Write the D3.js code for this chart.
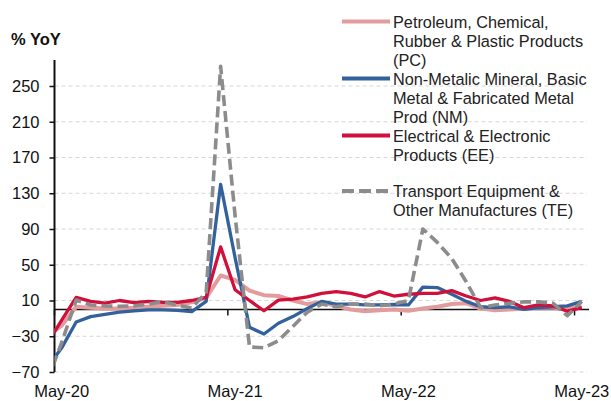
<!DOCTYPE html>
<html>
<head>
<meta charset="utf-8">
<script src="https://cdn.jsdelivr.net/npm/d3@7"></script>
<style>
  html, body { margin: 0; padding: 0; background: #fff; }
  svg { display: block; font-family: "Liberation Sans", Arial, sans-serif; }
</style>
</head>
<body>
<svg id="chart" width="611" height="401"></svg>
<script>
// Monthly year-on-year growth by manufacturing sub-sector (%)
const months = ["Apr-20","May-20","Jun-20","Jul-20","Aug-20","Sep-20","Oct-20","Nov-20","Dec-20",
  "Jan-21","Feb-21","Mar-21","Apr-21","May-21","Jun-21","Jul-21","Aug-21","Sep-21","Oct-21","Nov-21","Dec-21",
  "Jan-22","Feb-22","Mar-22","Apr-22","May-22","Jun-22","Jul-22","Aug-22","Sep-22","Oct-22","Nov-22","Dec-22",
  "Jan-23","Feb-23","Mar-23","Apr-23","May-23"];

const pcValues = [-30, -18, 3, 2, 1, 1, 2, 3, 4, 5, 8, 13,
  38, 33, 21, 16, 15, 10, 6, 8, 4,
  0, -2, -1, 0, -1.5, 1, 3, 6, 7, 1, -1, 0,
  1, 2, 2, 1, 3];
const nmValues = [-65, -43, -14, -8, -5.5, -3, -1.5, -0.5, -0.5, -1, -2.5, 9,
  140, 58, -20, -27.5, -15.5, -8, 1, 9, 6,
  6, 5, 5, 5.5, 5, 25, 24.5, 17, 9, 3, 2, 3,
  0, 2, 3, 4, 9];
const eeValues = [-38, -12, 13.5, 9, 7, 10, 7.5, 9, 8, 8, 10, 13.5,
  70, 22, 10, -1.5, 10.5, 11.5, 14, 18, 20,
  18, 14, 20, 15, 17, 18, 18, 21, 15, 10, 13, 9,
  2, 5, 4, -2, 2];
const teValues = [-80, -37, 10.5, 5, 4, 3.5, 4, 6, 8.5, 5, 1.5, 19,
  272, 105, -42, -43, -35, -19, -3, 6, 3,
  6, 6, 4, 6, 10, 90, 75, 57, 31, 2, 5, 7,
  8.5, 8.5, 7, -7, 9];

const seriesNames = [
  ["Petroleum, Chemical,", "Rubber & Plastic Products", "(PC)"],
  ["Non-Metalic Mineral, Basic", "Metal & Fabricated Metal", "Prod (NM)"],
  ["Electrical & Electronic", "Products (EE)"],
  ["Transport Equipment &", "Other Manufactures (TE)"]
];
const yTicks = [-70, -30, 10, 50, 90, 130, 170, 210, 250];
const xTickLabels = ["May-20", "May-21", "May-22", "May-23"];
const axisTitle = "% YoY";

const series = [
  { values: pcValues, color: "#E39C9D", width: 4, dash: null },
  { values: nmValues, color: "#33619B", width: 3.3, dash: null },
  { values: eeValues, color: "#D0103A", width: 3.3, dash: null },
  { values: teValues, color: "#8C8C8C", width: 3.6, dash: "11,5" }
];

const svg = d3.select("#chart");
const plotLeft = 54.5, plotRight = 589, plotTop = 60, plotBottom = 372;
const fontSize = 16.5;
const legendFont = 16.3;

// x: month slots, May-20 occupies [0,1]; each value sits in the middle of its slot
const firstShown = months.indexOf("May-20");
const x = d3.scaleLinear().domain([0, 37]).range([plotLeft, plotRight]);
const y = d3.scaleLinear().domain([-70, 250]).range([plotBottom, 86]);
const xPos = i => x(i - firstShown + 0.5);

// horizontal dashed gridlines
svg.append("g").selectAll("line").data(yTicks).join("line")
  .attr("x1", plotLeft).attr("x2", 587)
  .attr("y1", d => y(d)).attr("y2", d => y(d))
  .attr("stroke", "#D6D6D6").attr("stroke-width", 1)
  .attr("stroke-dasharray", "4,3");

// y axis
const yAxis = d3.axisLeft(y).tickValues(yTicks).tickSize(5).tickPadding(10).tickFormat(d3.format("d"));
const gy = svg.append("g").attr("transform", `translate(${plotLeft},0)`).call(yAxis);
gy.select(".domain").remove();
gy.selectAll(".tick line").attr("stroke", "#111").attr("stroke-width", 1.5);
gy.selectAll(".tick text").attr("font-size", fontSize).attr("fill", "#111")
  .attr("font-family", "Liberation Sans, Arial, sans-serif");
svg.append("line").attr("x1", plotLeft).attr("x2", plotLeft).attr("y1", plotTop).attr("y2", plotBottom)
  .attr("stroke", "#111").attr("stroke-width", 2);

// zero line with yearly tick marks
svg.append("line").attr("x1", plotLeft).attr("x2", plotRight).attr("y1", y(0)).attr("y2", y(0))
  .attr("stroke", "#111").attr("stroke-width", 1.5);
const tickIdx = xTickLabels.map(l => months.indexOf(l) - firstShown);
svg.append("g").selectAll("line").data(tickIdx).join("line")
  .attr("x1", d => x(d)).attr("x2", d => x(d))
  .attr("y1", y(0)).attr("y2", y(0) + 6)
  .attr("stroke", "#111").attr("stroke-width", 1.5);

// x labels at the centre of each May slot
svg.append("g").selectAll("text").data(xTickLabels).join("text")
  .attr("x", d => xPos(months.indexOf(d)))
  .attr("y", 397)
  .attr("text-anchor", "middle")
  .attr("font-size", fontSize).attr("fill", "#111")
  .text(d => d);

// axis title
svg.append("text").attr("x", 11).attr("y", 45)
  .attr("font-size", fontSize).attr("font-weight", "bold").attr("fill", "#111")
  .text(axisTitle);

// lines, clipped to the plot area
svg.append("clipPath").attr("id", "plot-clip")
  .append("rect").attr("x", plotLeft).attr("y", 40).attr("width", plotRight - plotLeft).attr("height", plotBottom - 40);

const line = d3.line().x((d, i) => xPos(i)).y(d => y(d));
const plot = svg.append("g").attr("clip-path", "url(#plot-clip)");
series.forEach(s => {
  plot.append("path").datum(s.values)
    .attr("d", line)
    .attr("fill", "none")
    .attr("stroke", s.color)
    .attr("stroke-width", s.width)
    .attr("stroke-linejoin", "round")
    .attr("stroke-dasharray", s.dash);
});

// legend
const legendRows = [21.5, 78.5, 135.5, 191];
const legendLine = 19;
const legend = svg.append("g");
series.forEach((s, k) => {
  const cy = legendRows[k];
  legend.append("line")
    .attr("x1", 342).attr("x2", 390).attr("y1", cy).attr("y2", cy)
    .attr("stroke", s.color).attr("stroke-width", 4)
    .attr("stroke-dasharray", s.dash ? "12,5" : null);
  seriesNames[k].forEach((t, j) => {
    legend.append("text")
      .attr("x", 393).attr("y", cy + j * legendLine + 6)
      .attr("font-size", legendFont).attr("fill", "#222")
      .text(t);
  });
});
</script>
</body>
</html>
